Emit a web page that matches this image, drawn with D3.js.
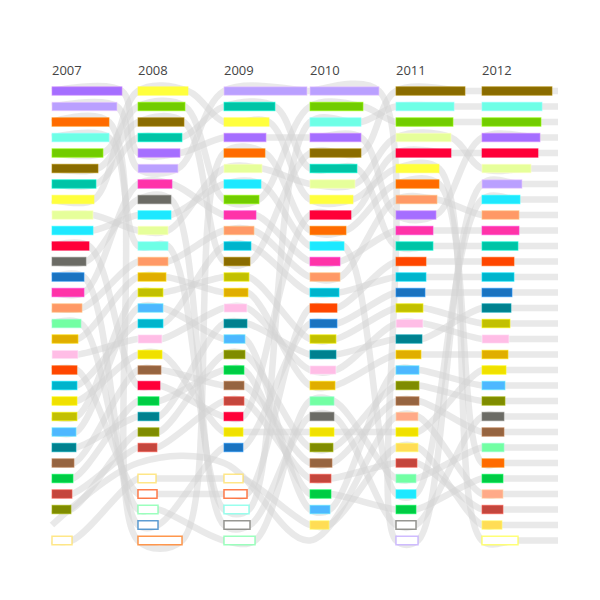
<!DOCTYPE html>
<html>
<head>
<meta charset="utf-8">
<script src="https://cdn.jsdelivr.net/npm/d3@7"></script>
<style>
  body { margin: 0; background: #fff; }
  text { font-family: "Open Sans", "Noto Sans", sans-serif; }
</style>
</head>
<body>
<script>
var years = [2007, 2008, 2009, 2010, 2011, 2012];

var cats = ["purple", "lavender", "orange", "aqua", "green", "olive brown", "teal", "yellow", "pale lime", "cyan",
    "red", "gray", "blue", "magenta", "salmon", "mint", "gold", "pink", "vermilion", "teal blue",
    "lemon", "chartreuse", "sky", "dark teal", "brown", "emerald", "brick", "olive", "sand", "peach"];
var colors = ["#a56eff", "#baa0ff", "#ff6b00", "#6effe6", "#72cc00", "#8a6c00", "#00c4a6", "#ffff3d", "#e6ff9a", "#1ee8ff",
    "#ff0038", "#6b6b65", "#1a73c0", "#ff33a8", "#ff9966", "#72ffa3", "#e0ae00", "#ffbde6", "#ff4600", "#00b4cc",
    "#f0e000", "#c2c000", "#4db8ff", "#00818f", "#966440", "#00cc44", "#c4463d", "#7f8c00", "#ffdd55", "#ffaa88"];

// rank order per year, top to bottom
var order2007 = ["purple", "lavender", "orange", "aqua", "green", "olive brown", "teal", "yellow", "pale lime", "cyan",
    "red", "gray", "blue", "magenta", "salmon", "mint", "gold", "pink", "vermilion", "teal blue",
    "lemon", "chartreuse", "sky", "dark teal", "brown", "emerald", "brick", "olive", "peach", "sand"];
var value2007 = [70, 65, 57, 57, 51, 46, 44, 42, 41, 41, 37, 34, 32, 32, 30, 29, 26, 26, 25, 25, 25, 25, 24, 24, 22, 21, 20, 19, 0, 20];
var hollow2007 = ["sand"];

var order2008 = ["yellow", "green", "olive brown", "teal", "purple", "lavender", "magenta", "gray", "cyan", "pale lime",
    "aqua", "salmon", "gold", "chartreuse", "sky", "teal blue", "pink", "lemon", "brown", "red",
    "emerald", "dark teal", "olive", "brick", "peach", "sand", "vermilion", "mint", "blue", "orange"];
var value2008 = [50, 47, 46, 44, 42, 40, 34, 33, 33, 30, 30, 30, 28, 25, 25, 25, 24, 24, 23, 22, 21, 21, 21, 19, 0, 18, 19, 20, 20, 44];
var hollow2008 = ["sand", "vermilion", "mint", "blue", "orange"];

var order2009 = ["lavender", "teal", "yellow", "purple", "orange", "pale lime", "cyan", "green", "magenta", "salmon",
    "teal blue", "olive brown", "chartreuse", "gold", "pink", "dark teal", "sky", "olive", "emerald", "brown",
    "brick", "red", "lemon", "blue", "peach", "sand", "vermilion", "aqua", "gray", "mint"];
var value2009 = [83, 51, 45, 42, 41, 38, 37, 35, 32, 30, 27, 26, 25, 24, 23, 23, 21, 21, 20, 20, 20, 19, 19, 19, 0, 19, 23, 25, 26, 31];
var hollow2009 = ["sand", "vermilion", "aqua", "gray", "mint"];

var order2010 = ["lavender", "green", "aqua", "purple", "olive brown", "teal", "pale lime", "yellow", "red", "orange",
    "cyan", "magenta", "salmon", "teal blue", "vermilion", "blue", "chartreuse", "dark teal", "pink", "gold",
    "mint", "gray", "lemon", "olive", "brown", "brick", "emerald", "sky", "sand", "peach"];
var value2010 = [69, 53, 51, 51, 51, 47, 45, 43, 41, 36, 34, 30, 30, 29, 27, 27, 26, 26, 26, 25, 24, 24, 24, 23, 22, 21, 21, 20, 19, 0];
var hollow2010 = [];

var order2011 = ["olive brown", "aqua", "green", "pale lime", "red", "yellow", "orange", "salmon", "purple", "magenta",
    "teal", "vermilion", "teal blue", "blue", "chartreuse", "pink", "dark teal", "gold", "sky", "olive",
    "brown", "peach", "lemon", "sand", "brick", "mint", "cyan", "emerald", "gray", "lavender"];
var value2011 = [69, 58, 57, 55, 55, 43, 43, 41, 40, 37, 37, 30, 30, 29, 27, 27, 26, 25, 23, 23, 23, 22, 22, 22, 21, 20, 20, 20, 20, 22];
var hollow2011 = ["gray", "lavender"];

var order2012 = ["olive brown", "aqua", "green", "purple", "red", "pale lime", "lavender", "cyan", "salmon", "magenta",
    "teal", "vermilion", "teal blue", "blue", "dark teal", "chartreuse", "pink", "gold", "lemon", "sky",
    "olive", "gray", "brown", "mint", "orange", "emerald", "peach", "brick", "sand", "yellow"];
var value2012 = [70, 60, 59, 58, 56, 49, 40, 38, 37, 37, 36, 32, 32, 30, 29, 28, 27, 26, 24, 23, 23, 22, 22, 22, 22, 21, 21, 21, 20, 36];
var hollow2012 = ["yellow"];

var orders = [order2007, order2008, order2009, order2010, order2011, order2012];
var values = [value2007, value2008, value2009, value2010, value2011, value2012];
var hollows = [hollow2007, hollow2008, hollow2009, hollow2010, hollow2011, hollow2012];

var svg = d3.select("body")
    .append("svg")
    .attr("width", 600)
    .attr("height", 600);

var x = d3.scaleLinear().domain([2007, 2013]).range([52, 568]);
var y = d3.scaleLinear().domain([0, 29]).range([91, 540.5]);
var w = d3.scaleLinear().domain([0, 83]).range([0, 83]);
var color = d3.scaleOrdinal().domain(cats).range(colors);
var barH = 8.5;

// one row per category and year
var bars = [];
years.forEach(function (yr, i) {
    orders[i].forEach(function (c, r) {
        bars.push({ year: yr, cat: c, rank: r, value: values[i][r], hollow: hollows[i].indexOf(c) >= 0 });
    });
});

svg.append("defs").append("clipPath").attr("id", "clip")
    .append("rect").attr("x", 0).attr("y", 0).attr("width", 558).attr("height", 600);

var line = d3.line().curve(d3.curveCatmullRom);

var paths = cats.map(function (c) {
    var pts = [];
    var last;
    bars.filter(function (b) { return b.cat == c; }).forEach(function (b) {
        var x0 = x(b.year), yy = y(b.rank);
        pts.push([x0, yy]);
        if (b.value > 0) pts.push([x0 + w(b.value), yy]);
        last = yy;
    });
    pts.push([590, last]);
    return pts;
});

svg.append("g")
    .attr("clip-path", "url(#clip)")
    .selectAll("path")
    .data(paths)
    .enter()
    .append("path")
    .attr("d", line)
    .attr("fill", "none")
    .attr("stroke", "#d4d4d4")
    .attr("stroke-opacity", 0.5)
    .attr("stroke-width", 6.5);

svg.append("g")
    .selectAll("rect")
    .data(bars.filter(function (b) { return b.value > 0; }))
    .enter()
    .append("rect")
    .attr("x", function (d) { return x(d.year); })
    .attr("y", function (d) { return y(d.rank) - barH / 2; })
    .attr("width", function (d) { return w(d.value); })
    .attr("height", barH)
    .attr("fill", function (d) { return d.hollow ? "#fff" : color(d.cat); })
    .attr("stroke", function (d) { return d.hollow ? color(d.cat) : d3.color(color(d.cat)).brighter(0.7); })
    .attr("stroke-opacity", function (d) { return d.hollow ? 0.7 : 0.6; })
    .attr("stroke-width", function (d) { return d.hollow ? 1.5 : 1; });

svg.append("g")
    .selectAll("text")
    .data(years)
    .enter()
    .append("text")
    .attr("x", function (d) { return x(d); })
    .attr("y", 75)
    .attr("font-size", 13)
    .attr("fill", "#444")
    .text(function (d) { return d; });
</script>
</body>
</html>
